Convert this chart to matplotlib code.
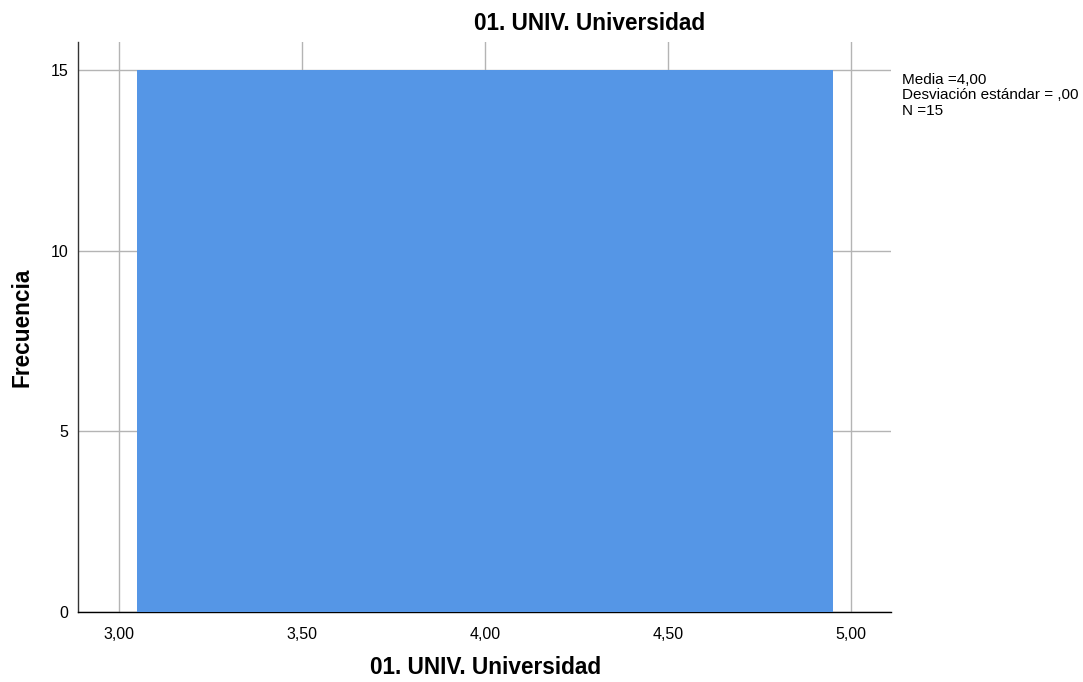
import matplotlib
matplotlib.use("Agg")
import matplotlib.pyplot as plt

plt.rcParams['font.family'] = ['Liberation Sans', 'DejaVu Sans']

# Data
values = [4.00, 4.00, 4.00, 4.00, 4.00, 4.00, 4.00, 4.00, 4.00, 4.00,
          4.00, 4.00, 4.00, 4.00, 4.00]
bin_edges = [3.05, 4.95]
x_ticks = [3.0, 3.5, 4.0, 4.5, 5.0]
x_tick_labels = ["3,00", "3,50", "4,00", "4,50", "5,00"]
y_ticks = [0, 5, 10, 15]
y_tick_labels = ["0", "5", "10", "15"]
title = "01. UNIV. Universidad"
xlabel = "01. UNIV. Universidad"
ylabel = "Frecuencia"
stats_text = "Media =4,00\nDesviación estándar = ,00\nN =15"

W, H = 1083, 682
fig = plt.figure(figsize=(W / 100, H / 100), dpi=100)
ax = fig.add_axes([78/W, 70/H, (891-78)/W, (612-42)/H])

ax.hist(values, bins=bin_edges, color="#5596e6", edgecolor="none", zorder=3)

ax.set_xlim(2.888, 5.109)
ax.set_ylim(0, 15.775)
ax.set_xticks(x_ticks)
ax.set_xticklabels(x_tick_labels, fontsize=11.5)
ax.set_yticks(y_ticks)
ax.set_yticklabels(y_tick_labels, fontsize=11.5)
ax.tick_params(axis='x', length=0, pad=11)
ax.tick_params(axis='y', length=0, pad=7)
ax.grid(True, color="#b4b4b4", linewidth=1.0, zorder=0)
ax.set_axisbelow(True)

for s in ["top", "right"]:
    ax.spines[s].set_visible(False)
ax.spines["left"].set_color("#333333")
ax.spines["bottom"].set_color("#000000")
ax.spines["left"].set_linewidth(1.0)
ax.spines["bottom"].set_linewidth(1.0)

fig.text(486/W, 1 - 668/H, xlabel, fontsize=16.3, fontweight="bold",
         ha="center", va="center")
fig.text(22/W, 1 - 327/H, ylabel, fontsize=16.3, fontweight="bold",
         ha="center", va="center", rotation=90)
fig.text(589.5/W, 1 - 23.5/H, title, fontsize=16.3, fontweight="bold",
         ha="center", va="center")
fig.text(902/W, 1 - 73/H, stats_text, fontsize=11, ha="left", va="top",
         linespacing=1.12)

fig.savefig("out.png", dpi=100)
